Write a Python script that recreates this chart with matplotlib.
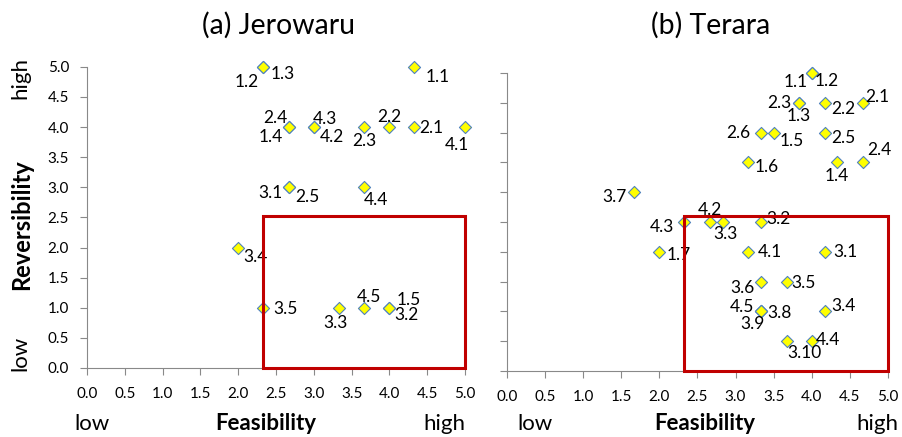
import matplotlib
matplotlib.use("Agg")
import matplotlib.pyplot as plt
from matplotlib.patches import Rectangle

plt.rcParams['font.family'] = ['Lato', 'DejaVu Sans']

# (a) Jerowaru
left_names = ['1.1', '1.2', '1.3', '1.4', '1.5', '2.1', '2.2', '2.3', '2.4', '2.5',
              '3.1', '3.2', '3.3', '3.4', '3.5', '4.1', '4.2', '4.3', '4.4', '4.5']
left_x = [4.33, 2.33, 2.33, 2.67, 4.0, 4.33, 4.0, 3.67, 2.67, 2.67,
          2.67, 4.0, 3.33, 2.0, 2.33, 5.0, 3.0, 3.0, 3.67, 3.67]
left_y = [5, 5, 5, 4, 1, 4, 4, 4, 4, 3,
          3, 1, 1, 2, 1, 4, 4, 4, 3, 1]

# (b) Terara
right_names = ['1.1', '1.2', '1.3', '1.4', '1.5', '1.6', '1.7', '2.1', '2.2', '2.3',
               '2.4', '2.5', '2.6', '3.1', '3.2', '3.3', '3.4', '3.5', '3.6', '3.7',
               '3.8', '3.9', '3.10', '4.1', '4.2', '4.3', '4.4', '4.5']
right_x = [4.0, 4.0, 3.83, 4.33, 3.5, 3.17, 2.0, 4.67, 4.17, 3.83,
           4.67, 4.17, 3.33, 4.17, 3.33, 2.83, 4.17, 3.67, 3.33, 1.67,
           3.33, 3.33, 3.67, 3.17, 2.67, 2.33, 4.0, 3.33]
right_y = [5.0, 5.0, 4.5, 3.5, 4.0, 3.5, 2.0, 4.5, 4.5, 4.5,
           3.5, 4.0, 4.0, 2.0, 2.5, 2.5, 1.0, 1.5, 1.5, 3.0,
           1.0, 1.0, 0.5, 2.0, 2.5, 2.5, 0.5, 1.0]

ticks = [0.0, 0.5, 1.0, 1.5, 2.0, 2.5, 3.0, 3.5, 4.0, 4.5, 5.0]

# label placement (ha, dx px, dy px up)
left_pos = [('left', 11, -10), ('right', -4, -15), ('left', 7, -7), ('right', -6, -10),
            ('left', 7, 8), ('left', 5, -1), ('center', 0, 10), ('center', 0, -14),
            ('right', -1, 9), ('left', 6, -10), ('right', -6, -6), ('left', 5, -7),
            ('center', -3, -15), ('left', 5, -9), ('left', 10, -1), ('center', -8, -18),
            ('left', 6, -10), ('left', -1, 8), ('left', -1, -13), ('center', 5, 11)]
right_pos = [('right', -4, -9), ('left', 3, -8), ('center', 0, -13), ('center', 0, -14),
             ('left', 6, -8), ('left', 6, -5), ('left', 7, -3), ('left', 2, 6),
             ('left', 7, -6), ('right', -7, 0), ('left', 4, 12), ('left', 7, -5),
             ('right', -10, 0), ('left', 9, 0), ('left', 6, 3), ('center', 3, -12),
             ('left', 7, 5), ('left', 5, -1), ('right', -6, -6), ('right', -7, -5),
             ('left', 7, -2), ('center', -8, -13), ('left', 1, -12), ('left', 9, 0),
             ('center', 0, 12), ('right', -10, -5), ('left', 4, 1), ('right', -7, 4)]

fig = plt.figure(figsize=(9.02, 4.37), dpi=100)
ax1 = fig.add_axes([0.0965, 0.158, 0.419, 0.689])
ax2 = fig.add_axes([0.562, 0.151, 0.4224, 0.682])

grey = '#898989'

def draw(ax, names, xs, ys, pos, box_top, ylabels):
    ax.scatter(xs, ys, marker='D', s=38, color='#FFFF00', edgecolor='#4F81BD',
               linewidth=0.8, zorder=3, clip_on=False)
    for n, x, y, (ha, dx, dy) in zip(names, xs, ys, pos):
        ax.annotate(n, (x, y), xytext=(dx, dy), textcoords='offset pixels',
                    ha=ha, va='center', fontsize=12.5, color='black')
    ax.add_patch(Rectangle((2.33, 0), 5 - 2.33, box_top, fill=False,
                           edgecolor='#C00000', linewidth=2.2, clip_on=False, zorder=4))
    ax.set_xlim(0, 5)
    ax.set_ylim(0, 5)
    ax.set_xticks(ticks)
    ax.set_yticks(ticks)
    ax.set_xticklabels(['%.1f' % t for t in ticks])
    if ylabels:
        ax.set_yticklabels(['%.1f' % t for t in ticks])
    else:
        ax.set_yticklabels([])
    for s in ['top', 'right']:
        ax.spines[s].set_visible(False)
    for s in ['left', 'bottom']:
        ax.spines[s].set_color(grey)
    ax.tick_params(axis='both', colors=grey, length=5, labelcolor='black', labelsize=11)
    ax.tick_params(axis='x', pad=9)
    ax.tick_params(axis='y', pad=8)

draw(ax1, left_names, left_x, left_y, left_pos, 2.52, True)
draw(ax2, right_names, right_x, right_y, right_pos, 2.6, False)

# titles
fig.text(279 / 902, 1 - 25 / 437, '(a) Jerowaru', ha='center', va='center', fontsize=20.5)
fig.text(711 / 902, 1 - 25 / 437, '(b) Terara', ha='center', va='center', fontsize=20.5)

# axis captions
fig.text(22 / 902, 1 - 225 / 437, 'Reversibility', rotation=90, ha='center', va='center',
         fontsize=17, fontweight='bold')
fig.text(20 / 902, 1 - 78 / 437, 'high', rotation=90, ha='center', va='center', fontsize=16)
fig.text(20 / 902, 1 - 353 / 437, 'low', rotation=90, ha='center', va='center', fontsize=16)

for lx, fx, hx in [(92, 266, 465), (535, 705, 898)]:
    fig.text(lx / 902, 1 - 424 / 437, 'low', ha='center', va='center', fontsize=16)
    fig.text(fx / 902, 1 - 424 / 437, 'Feasibility', ha='center', va='center',
             fontsize=16, fontweight='bold')
    fig.text(hx / 902, 1 - 424 / 437, 'high', ha='right', va='center', fontsize=16)

plt.savefig('out.png', dpi=100)
